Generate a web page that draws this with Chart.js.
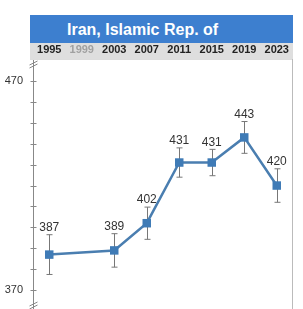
<!DOCTYPE html>
<html lang="en">
<head>
    <meta charset="UTF-8">
    <title>Iran, Islamic Rep. of</title>
    <script src="https://cdn.jsdelivr.net/npm/chart.js@4.4.0/dist/chart.umd.min.js"></script>
    <style>
        body { margin: 0; background: #fff; }
        .wrap { position: relative; width: 303px; height: 309px; }
        .band { position: absolute; left: 30px; top: 15px; width: 226px; height: 28px; padding-left: 37px;
                background: #3d7fcf; color: #fff; font: bold 16px "Liberation Sans", Arial, sans-serif; line-height: 30px; }
        .years { position: absolute; left: 30px; top: 43px; width: 263px; height: 16px; background: #dedede; }
        canvas { position: absolute; left: 0; top: 0; }
    </style>
</head>
<body>
    <div class="wrap">
        <div class="band">Iran, Islamic Rep. of</div>
        <div class="years"></div>
        <canvas id="chart" width="303" height="309"></canvas>
    </div>
    <script>
        const years = ['1995', '1999', '2003', '2007', '2011', '2015', '2019', '2023'];
        const scores = [387, null, 389, 402, 431, 431, 443, 420];
        const errors = [9.5, null, 8, 7.7, 7, 6.3, 7.6, 8];
        const yTicks = [370, 380, 390, 400, 410, 420, 430, 440, 450, 460, 470];
        const yLabeled = [370, 470];

        // error bars, drawn under the line
        const errorBars = {
            id: 'errorBars',
            beforeDatasetsDraw(chart) {
                const ctx = chart.ctx, x = chart.scales.x, y = chart.scales.y;
                ctx.save();
                ctx.strokeStyle = '#777';
                ctx.lineWidth = 1;
                scores.forEach((v, i) => {
                    if (v == null) return;
                    const px = Math.round(x.getPixelForValue(i)) + 0.5;
                    const top = y.getPixelForValue(v + errors[i]);
                    const bot = y.getPixelForValue(v - errors[i]);
                    ctx.beginPath();
                    ctx.moveTo(px, top); ctx.lineTo(px, bot);
                    ctx.moveTo(px - 3, top); ctx.lineTo(px + 3, top);
                    ctx.moveTo(px - 3, bot); ctx.lineTo(px + 3, bot);
                    ctx.stroke();
                });
                ctx.restore();
            },
            afterDatasetsDraw(chart) {
                const ctx = chart.ctx, x = chart.scales.x, y = chart.scales.y;
                ctx.save();
                ctx.fillStyle = '#333';
                ctx.font = '12px "Liberation Sans", Arial, sans-serif';
                ctx.textAlign = 'center';
                ctx.textBaseline = 'bottom';
                scores.forEach((v, i) => {
                    if (v == null) return;
                    const px = x.getPixelForValue(i);
                    const top = y.getPixelForValue(v + errors[i]);
                    ctx.fillText(String(v), px, top - 1);
                });
                ctx.restore();
            }
        };

        // y axis line with crossing ticks and break marks
        const axisFrame = {
            id: 'axisFrame',
            afterDraw(chart) {
                const ctx = chart.ctx, y = chart.scales.y, a = chart.chartArea;
                const ax = Math.round(a.left) + 0.5;
                ctx.save();
                ctx.strokeStyle = '#ddd';
                ctx.lineWidth = 1;
                ctx.beginPath();
                ctx.moveTo(30, 59.5); ctx.lineTo(293, 59.5);
                ctx.stroke();
                ctx.strokeStyle = '#bbb';
                ctx.beginPath();
                ctx.moveTo(292.5, 59); ctx.lineTo(292.5, 309);
                ctx.stroke();
                ctx.strokeStyle = '#888';
                ctx.beginPath();
                ctx.moveTo(ax, a.top); ctx.lineTo(ax, a.bottom);
                yTicks.forEach(v => {
                    const py = Math.round(y.getPixelForValue(v)) + 0.5;
                    ctx.moveTo(ax - 3, py); ctx.lineTo(ax + 3, py);
                });
                [a.top + 2, a.bottom - 6].forEach(b => {
                    ctx.moveTo(ax - 4, b + 3); ctx.lineTo(ax + 4, b - 1);
                    ctx.moveTo(ax - 4, b + 6); ctx.lineTo(ax + 4, b + 2);
                });
                ctx.stroke();
                ctx.restore();
            }
        };

        new Chart(document.getElementById('chart'), {
            type: 'line',
            data: {
                labels: years,
                datasets: [{
                    data: scores,
                    borderColor: '#4a7eb0',
                    borderWidth: 2.5,
                    backgroundColor: '#3f7bb6',
                    pointStyle: 'rect',
                    pointRadius: 6,
                    pointBorderWidth: 0,
                    spanGaps: true,
                    tension: 0
                }]
            },
            options: {
                responsive: false,
                animation: false,
                layout: { autoPadding: false, padding: { left: 0, right: 10, top: 0, bottom: 0 } },
                plugins: { legend: { display: false }, tooltip: { enabled: false } },
                scales: {
                    x: {
                        position: 'top',
                        offset: true,
                        afterFit: s => { s.height = 60; s.paddingLeft = 0; s.paddingRight = 0; },
                        grid: { display: false, drawTicks: false },
                        border: { display: false },
                        ticks: {
                            padding: 3,
                            maxRotation: 0,
                            autoSkip: false,
                            font: { family: '"Liberation Sans", Arial, sans-serif', size: 11, weight: 'bold' },
                            color: c => c.index === 1 ? '#a0a0a0' : '#222'
                        }
                    },
                    y: {
                        min: 361,
                        max: 480,
                        afterFit: s => { s.width = 33; s.paddingTop = 0; s.paddingBottom = 0; },
                        afterBuildTicks: s => { s.ticks = yTicks.map(v => ({ value: v })); },
                        grid: { display: false, drawTicks: false },
                        border: { display: false },
                        ticks: {
                            padding: 10,
                            font: { family: '"Liberation Sans", Arial, sans-serif', size: 11 },
                            color: '#333',
                            callback: v => yLabeled.includes(v) ? String(v) : ''
                        }
                    }
                }
            },
            plugins: [errorBars, axisFrame]
        });
    </script>
</body>
</html>
